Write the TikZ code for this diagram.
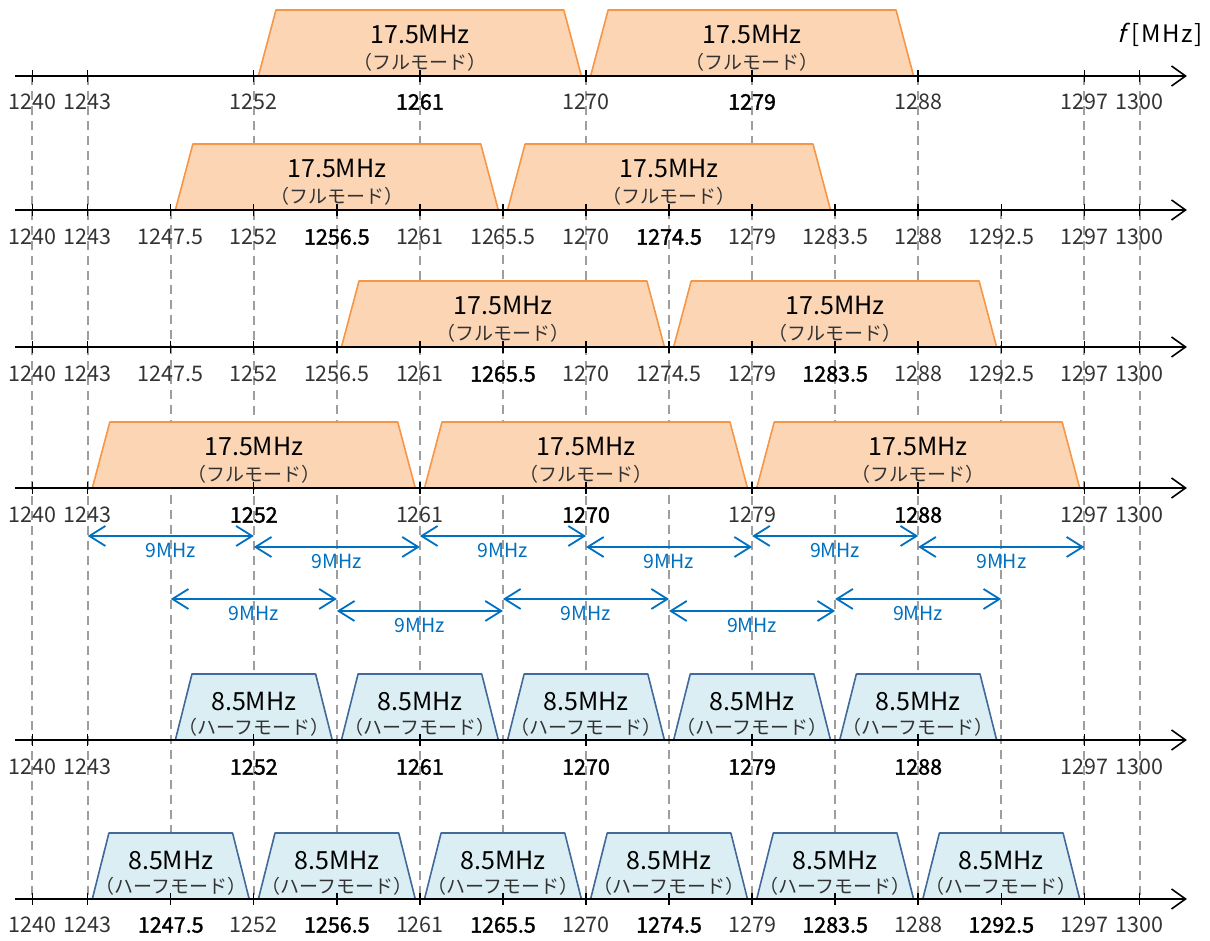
\documentclass[tikz,border=0pt]{standalone}
\usepackage{fontspec}
\setmainfont{Noto Sans CJK JP}
\newfontfamily\boldnum[FakeBold=1.6]{Noto Sans CJK JP}
\newfontfamily\slantf[FakeSlant=0.25]{Noto Sans CJK JP}
\newfontfamily\widef[LetterSpace=6]{Noto Sans CJK JP}
\usetikzlibrary{arrows.meta}
\definecolor{fullfill}{HTML}{FCD5B5}
\definecolor{fullline}{HTML}{F79646}
\definecolor{halffill}{HTML}{DAEEF3}
\definecolor{halfline}{HTML}{41699A}
\definecolor{arrblue}{HTML}{0070C0}
\definecolor{gridgray}{HTML}{9E9E9E}
\definecolor{labgray}{HTML}{333333}
\tikzset{
  axisln/.style={line width=1.6pt,-{Straight Barb[length=14pt,width=20pt,line width=1.6pt]}},
  tickln/.style={line width=1.4pt},
  gridln/.style={draw=gridgray,line width=2pt,dash pattern=on 9pt off 6pt},
  fullband/.style={fill=fullfill,draw=fullline,line width=1.6pt,line join=round},
  halfband/.style={fill=halffill,draw=halfline,line width=1.6pt,line join=round},
  dbl/.style={draw=arrblue,line width=1.8pt,{Straight Barb[length=16pt,width=20pt]}-{Straight Barb[length=16pt,width=20pt]}},
  ticklab/.style={font=\fontsize{21.5pt}{23pt}\selectfont,text=labgray,inner sep=0pt},
  tickbold/.style={font=\boldnum\fontsize{21.5pt}{23pt}\selectfont,text=black,inner sep=0pt},
  bigtxt/.style={font=\fontsize{25pt}{27pt}\selectfont,text=black,inner sep=0pt},
  subtxt/.style={font=\fontsize{19pt}{21pt}\selectfont,text=labgray,inner sep=0pt},
  mhztxt/.style={font=\fontsize{19.5pt}{21pt}\selectfont,text=arrblue,inner sep=0pt},
}
% full band: #1 centre (f-1240), #2 axis y, #3 name
\newcommand\fullbandat[3]{%
  \draw[fullband] ({#1-8.75},#2) -- ({#1-7.8},{#2-66}) -- ({#1+7.8},{#2-66}) -- ({#1+8.75},#2) -- cycle;
  \node[bigtxt] (#3a) at (#1,{#2-41}) {17.5MHz};
  \node[subtxt] (#3b) at (#1,{#2-14}) {（フルモード）};
}
\newcommand\halfbandat[3]{%
  \draw[halfband] ({#1-4.25},#2) -- ({#1-3.35},{#2-66}) -- ({#1+3.35},{#2-66}) -- ({#1+4.25},#2) -- cycle;
  \node[bigtxt] (#3a) at (#1,{#2-38}) {8.5MHz};
  \node[subtxt] (#3b) at (#1,{#2-13}) {（ハーフモード）};
}
\newcommand\freqaxis[2]{%
  \coordinate (#2s) at (-0.939,#1);
  \coordinate (#2e) at (62.56,#1);
  \draw[axisln] (#2s) -- (#2e);
}
\begin{document}
\begin{tikzpicture}[x=18.456pt,y=-1pt]
\useasboundingbox (-1.7517,0) rectangle (63.8116,941);
% dashed guide lines
\foreach \v in {0,3,12,21,30,39,48,57,60} \draw[gridln] (\v,76) -- (\v,899);
\foreach \v in {7.5,16.5,25.5,34.5,43.5,52.5} \draw[gridln] (\v,210) -- (\v,899);
% bands
\fullbandat{21}{76}{r1a}
\fullbandat{39}{76}{r1b}
\fullbandat{16.5}{210}{r2a}
\fullbandat{34.5}{210}{r2b}
\fullbandat{25.5}{347}{r3a}
\fullbandat{43.5}{347}{r3b}
\fullbandat{12}{488}{r4a}
\fullbandat{30}{488}{r4b}
\fullbandat{48}{488}{r4c}
\halfbandat{12}{740}{r5a}
\halfbandat{21}{740}{r5b}
\halfbandat{30}{740}{r5c}
\halfbandat{39}{740}{r5d}
\halfbandat{48}{740}{r5e}
\halfbandat{7.5}{899}{r6a}
\halfbandat{16.5}{899}{r6b}
\halfbandat{25.5}{899}{r6c}
\halfbandat{34.5}{899}{r6d}
\halfbandat{43.5}{899}{r6e}
\halfbandat{52.5}{899}{r6f}
% axes
\freqaxis{76}{ax1}
\freqaxis{210}{ax2}
\freqaxis{347}{ax3}
\freqaxis{488}{ax4}
\freqaxis{740}{ax5}
\freqaxis{899}{ax6}
\node[font=\widef\fontsize{24pt}{26pt}\selectfont,text=black,inner sep=0pt,anchor=east] (unit) at (63.4,35) {{\slantf f}\kern7pt[MHz]};
% row 1
\foreach \v in {0,3,12,21,30,39,48,57,60} \draw[tickln] (\v,70) -- (\v,82);
\foreach \v/\lb in {0/1240,3/1243,12/1252,30/1270,48/1288,57/1297,60/1300} \node[ticklab] at (\v,102) {\lb};
\foreach \v/\lb in {21/1261,39/1279} \node[tickbold] at (\v,102) {\lb};
% row 2
\foreach \v in {0,3,7.5,12,16.5,21,25.5,30,34.5,39,43.5,48,52.5,57,60} \draw[tickln] (\v,204) -- (\v,216);
\foreach \v/\lb in {0/1240,3/1243,7.5/1247.5,12/1252,21/1261,25.5/1265.5,30/1270,39/1279,43.5/1283.5,48/1288,52.5/1292.5,57/1297,60/1300} \node[ticklab] at (\v,237) {\lb};
\foreach \v/\lb in {16.5/1256.5,34.5/1274.5} \node[tickbold] at (\v,237) {\lb};
% row 3
\foreach \v in {0,3,7.5,12,16.5,21,25.5,30,34.5,39,43.5,48,52.5,57,60} \draw[tickln] (\v,341) -- (\v,353);
\foreach \v/\lb in {0/1240,3/1243,7.5/1247.5,12/1252,16.5/1256.5,21/1261,30/1270,34.5/1274.5,39/1279,48/1288,52.5/1292.5,57/1297,60/1300} \node[ticklab] at (\v,374) {\lb};
\foreach \v/\lb in {25.5/1265.5,43.5/1283.5} \node[tickbold] at (\v,374) {\lb};
% row 4
\foreach \v in {0,3,12,21,30,39,48,57,60} \draw[tickln] (\v,482) -- (\v,494);
\foreach \v/\lb in {0/1240,3/1243,21/1261,39/1279,57/1297,60/1300} \node[ticklab] at (\v,515) {\lb};
\foreach \v/\lb in {12/1252,30/1270,48/1288} \node[tickbold] at (\v,515) {\lb};
% row 5
\foreach \v in {0,3,12,21,30,39,48,57,60} \draw[tickln] (\v,734) -- (\v,746);
\foreach \v/\lb in {0/1240,3/1243,57/1297,60/1300} \node[ticklab] at (\v,767) {\lb};
\foreach \v/\lb in {12/1252,21/1261,30/1270,39/1279,48/1288} \node[tickbold] at (\v,767) {\lb};
% row 6
\foreach \v in {0,3,7.5,12,16.5,21,25.5,30,34.5,39,43.5,48,52.5,57,60} \draw[tickln] (\v,893) -- (\v,905);
\foreach \v/\lb in {0/1240,3/1243,12/1252,21/1261,30/1270,39/1279,48/1288,57/1297,60/1300} \node[ticklab] at (\v,925) {\lb};
\foreach \v/\lb in {7.5/1247.5,16.5/1256.5,25.5/1265.5,34.5/1274.5,43.5/1283.5,52.5/1292.5} \node[tickbold] at (\v,925) {\lb};
% 9 MHz spacing arrows
\foreach \i/\a/\b/\yy in {1/3/12/536,2/12/21/547,3/21/30/536,4/30/39/547,5/39/48/536,6/48/57/547,
                          7/7.5/16.5/599,8/16.5/25.5/611,9/25.5/34.5/599,10/34.5/43.5/611,11/43.5/52.5/599}{
  \coordinate (s\i) at (\a,\yy);
  \coordinate (e\i) at (\b,\yy);
  \draw[dbl] (s\i) -- node[mhztxt,yshift=-14pt] (m\i) {9MHz} (e\i);
}
\end{tikzpicture}
\end{document}
